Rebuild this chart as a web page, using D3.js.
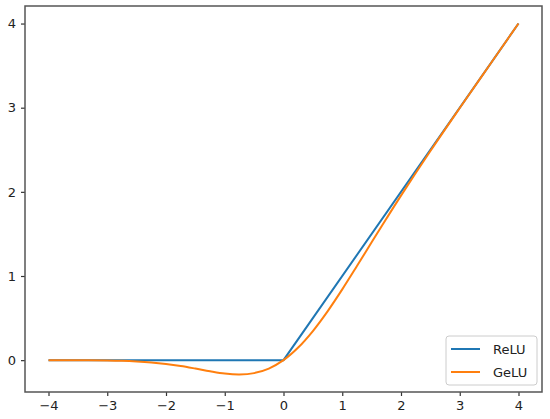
<!DOCTYPE html>
<html>
<head>
<meta charset="utf-8">
<script src="https://cdn.jsdelivr.net/npm/d3@7"></script>
<style>
  body { margin: 0; background: #fff; }
  svg { display: block; font-family: "DejaVu Sans", sans-serif; }
</style>
</head>
<body>
<svg id="chart" width="550" height="419"></svg>
<script>
// series
var reluX = [-4, 0, 4];
var reluY = [0, 0, 4];

var geluX = [-4, -3.5, -3, -2.75, -2.5, -2.25, -2, -1.75, -1.5, -1.25, -1, -0.75, -0.5, -0.25,
             0, 0.25, 0.5, 0.75, 1, 1.25, 1.5, 1.75, 2, 2.5, 3, 3.5, 4];
var geluY = [0, -0.001, -0.004, -0.008, -0.016, -0.028, -0.046, -0.07, -0.1, -0.132, -0.159, -0.17, -0.154, -0.1,
             0, 0.15, 0.346, 0.58, 0.841, 1.118, 1.4, 1.68, 1.955, 2.485, 2.996, 3.499, 4];

var xTicks = [-4, -3, -2, -1, 0, 1, 2, 3, 4];
var yTicks = [0, 1, 2, 3, 4];
var seriesNames = ["ReLU", "GeLU"];
var seriesColors = ["#1f77b4", "#ff7f0e"];

var svg = d3.select("#chart");
var margin = {top: 6, right: 8, bottom: 27, left: 25};
var width = 550 - margin.left - margin.right,
    height = 419 - margin.top - margin.bottom;

var g = svg.append("g")
    .attr("transform", "translate(" + margin.left + "," + margin.top + ")");

var xScale = d3.scaleLinear().domain([-4.4, 4.4]).range([0, width]);
var yScale = d3.scaleLinear().domain([-0.3785, 4.2085]).range([height, 0]);

var fmt = function(d) { return d < 0 ? "\u2212" + Math.abs(d) : "" + d; };

var xAxis = g.append("g")
    .attr("transform", "translate(0," + height + ")")
    .call(d3.axisBottom(xScale).tickValues(xTicks).tickFormat(fmt).tickSize(4).tickPadding(5));
var yAxis = g.append("g")
    .call(d3.axisLeft(yScale).tickValues(yTicks).tickFormat(fmt).tickSize(4).tickPadding(5));

[xAxis, yAxis].forEach(function(ax) {
    ax.select(".domain").remove();
    ax.selectAll(".tick line").attr("stroke", "#333").attr("stroke-width", 1.2);
    ax.selectAll(".tick text")
        .attr("fill", "#222")
        .style("font-size", "13px")
        .style("font-family", "DejaVu Sans, sans-serif");
});

var line = d3.line()
    .x(function(d) { return xScale(d[0]); })
    .y(function(d) { return yScale(d[1]); });

var relu = d3.zip(reluX, reluY);
var gelu = d3.zip(geluX, geluY);

g.append("path")
    .datum(relu)
    .attr("fill", "none")
    .attr("stroke", seriesColors[0])
    .attr("stroke-width", 2)
    .attr("d", line);

g.append("path")
    .datum(gelu)
    .attr("fill", "none")
    .attr("stroke", seriesColors[1])
    .attr("stroke-width", 2)
    .attr("d", line.curve(d3.curveCatmullRom));

// frame
g.append("rect")
    .attr("width", width)
    .attr("height", height)
    .attr("fill", "none")
    .attr("stroke", "#555")
    .attr("stroke-width", 1.5);

// legend
var legend = g.append("g")
    .attr("transform", "translate(" + (width - 96) + "," + (height - 56) + ")");
legend.append("rect")
    .attr("width", 91)
    .attr("height", 49)
    .attr("rx", 3)
    .attr("fill", "#fff")
    .attr("fill-opacity", 0.8)
    .attr("stroke", "#ccc");

seriesNames.forEach(function(name, i) {
    var row = legend.append("g").attr("transform", "translate(0," + (13 + i * 23) + ")");
    row.append("line")
        .attr("x1", 5).attr("x2", 34)
        .attr("stroke", seriesColors[i])
        .attr("stroke-width", 2);
    row.append("text")
        .attr("x", 47)
        .attr("y", 5)
        .attr("fill", "#222")
        .style("font-size", "13px")
        .text(name);
});
</script>
</body>
</html>
